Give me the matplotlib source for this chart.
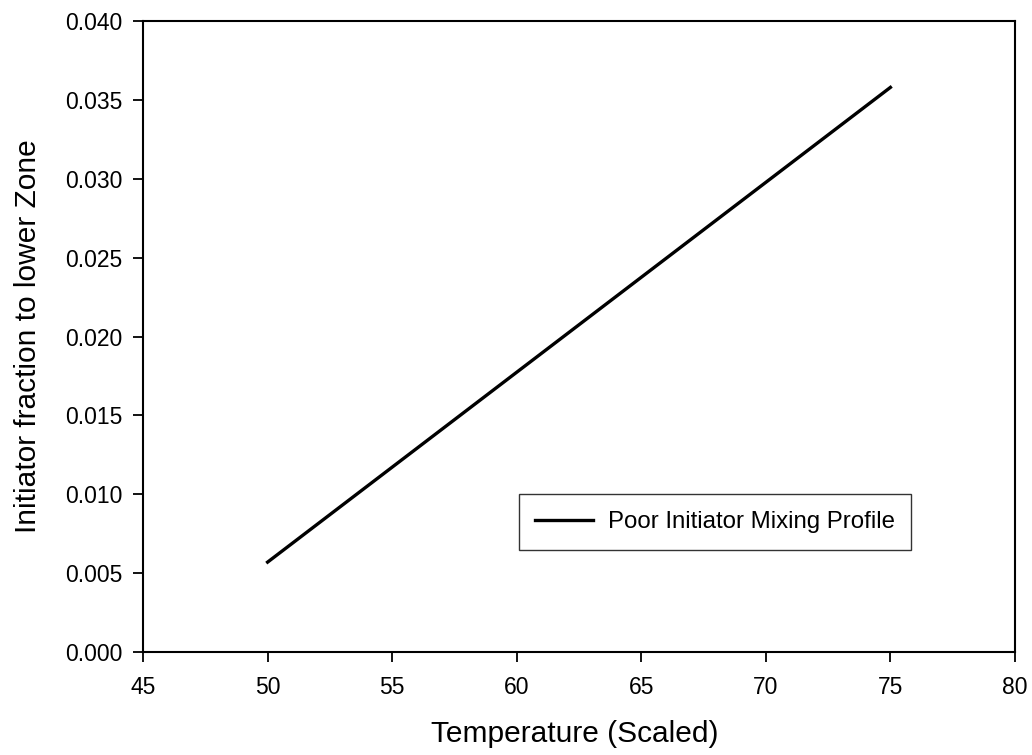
import matplotlib
matplotlib.use('Agg')
import matplotlib.pyplot as plt

# Poor initiator mixing profile
temperature = [50, 75]
fraction = [0.0057, 0.0358]

x_ticks = [45, 50, 55, 60, 65, 70, 75, 80]
y_ticks = [0.000, 0.005, 0.010, 0.015, 0.020, 0.025, 0.030, 0.035, 0.040]

plt.rcParams['font.family'] = ['Liberation Sans', 'DejaVu Sans']

fig = plt.figure(figsize=(10.32, 7.55), dpi=100)
ax = fig.add_axes([0.1386, 0.1364, 0.8449, 0.8356])

ax.plot(temperature, fraction, color='black', lw=2.4,
        label='Poor Initiator Mixing Profile')

ax.set_xlim(45, 80)
ax.set_ylim(0, 0.040)
ax.set_xticks(x_ticks)
ax.set_yticks(y_ticks)
ax.set_yticklabels([f'{v:.3f}' for v in y_ticks])
ax.tick_params(direction='out', length=7, width=1.3, labelsize=16.5)
ax.tick_params(axis='x', pad=10)
ax.tick_params(axis='y', pad=8)
for s in ax.spines.values():
    s.set_linewidth(1.5)

ax.set_xlabel('Temperature (Scaled)', fontsize=21.5)
ax.set_ylabel('Initiator fraction to lower Zone', fontsize=21.5)
ax.xaxis.set_label_coords(0.495, -0.108)
ax.yaxis.set_label_coords(-0.116, 0.5)

leg = ax.legend(loc='center', bbox_to_anchor=(0.656, 0.206), fontsize=17.3,
                frameon=True, fancybox=False, edgecolor='black',
                handlelength=2.4, handletextpad=0.6, borderpad=0.7,
                borderaxespad=0)
leg.get_frame().set_linewidth(1.0)

fig.savefig('out.png', dpi=100)
